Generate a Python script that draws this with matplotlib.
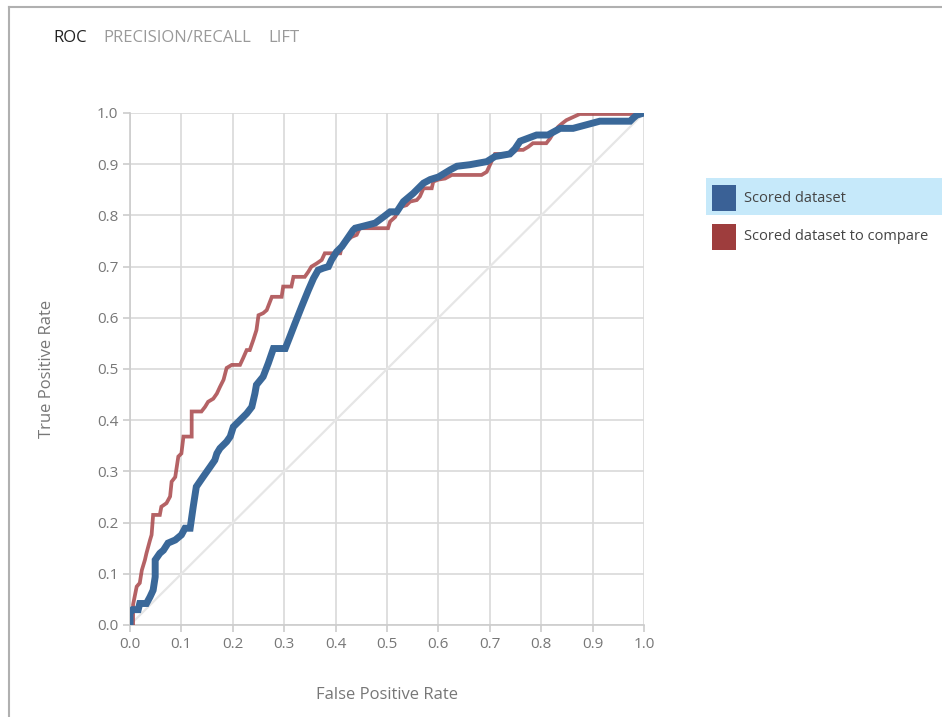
import matplotlib.pyplot as plt
from matplotlib.patches import Rectangle
from matplotlib.lines import Line2D

# ROC curve points (FPR, TPR)
fpr_scored = [0.0, 0.0, 0.005, 0.016, 0.019, 0.032, 0.039, 0.045, 0.049, 0.049, 0.058, 0.065,
              0.074, 0.088, 0.1, 0.107, 0.117, 0.123, 0.129, 0.142, 0.156, 0.165, 0.169, 0.175,
              0.188, 0.195, 0.201, 0.214, 0.227, 0.237, 0.243, 0.246, 0.259, 0.269, 0.279, 0.302,
              0.311, 0.321, 0.334, 0.347, 0.357, 0.366, 0.376, 0.386, 0.392, 0.402, 0.412, 0.421,
              0.434, 0.438, 0.454, 0.477, 0.493, 0.506, 0.519, 0.532, 0.551, 0.571, 0.584, 0.6,
              0.623, 0.636, 0.661, 0.694, 0.71, 0.739, 0.749, 0.759, 0.775, 0.791, 0.813, 0.837,
              0.862, 0.888, 0.914, 0.973, 0.979, 0.986, 1.0]
tpr_scored = [0.0, 0.025, 0.03, 0.03, 0.042, 0.042, 0.055, 0.068, 0.094, 0.127, 0.14, 0.146,
              0.16, 0.166, 0.176, 0.189, 0.189, 0.231, 0.27, 0.289, 0.309, 0.322, 0.335, 0.345,
              0.358, 0.368, 0.387, 0.4, 0.413, 0.426, 0.452, 0.469, 0.485, 0.511, 0.54, 0.54,
              0.563, 0.589, 0.622, 0.654, 0.677, 0.693, 0.697, 0.7, 0.713, 0.729, 0.739, 0.752,
              0.771, 0.775, 0.779, 0.785, 0.797, 0.807, 0.807, 0.827, 0.843, 0.863, 0.87, 0.875,
              0.889, 0.896, 0.899, 0.905, 0.915, 0.92, 0.93, 0.945, 0.951, 0.957, 0.957, 0.97,
              0.97, 0.977, 0.984, 0.984, 0.99, 0.996, 1.0]

fpr_compare = [0.006, 0.006, 0.013, 0.019, 0.023, 0.029, 0.032, 0.039, 0.042, 0.045, 0.058,
               0.061, 0.071, 0.078, 0.081, 0.088, 0.094, 0.1, 0.104, 0.12, 0.12, 0.139, 0.146,
               0.152, 0.162, 0.169, 0.175, 0.182, 0.188, 0.198, 0.214, 0.22, 0.227, 0.233, 0.24,
               0.246, 0.25, 0.259, 0.266, 0.276, 0.295, 0.298, 0.314, 0.318, 0.34, 0.347, 0.353,
               0.363, 0.373, 0.379, 0.409, 0.412, 0.421, 0.431, 0.441, 0.447, 0.502, 0.506, 0.516,
               0.522, 0.528, 0.538, 0.545, 0.558, 0.564, 0.571, 0.587, 0.59, 0.6, 0.613, 0.626,
               0.684, 0.694, 0.7, 0.71, 0.742, 0.752, 0.765, 0.775, 0.784, 0.81, 0.817, 0.823,
               0.833, 0.84, 0.849, 0.862, 0.875, 0.992, 1.0]
tpr_compare = [0.0, 0.04, 0.075, 0.082, 0.107, 0.127, 0.14, 0.166, 0.176, 0.215, 0.215,
               0.231, 0.238, 0.251, 0.28, 0.289, 0.329, 0.335, 0.368, 0.368, 0.417, 0.417, 0.426,
               0.436, 0.442, 0.452, 0.465, 0.479, 0.502, 0.508, 0.508, 0.521, 0.537, 0.537, 0.557,
               0.576, 0.605, 0.609, 0.615, 0.641, 0.641, 0.661, 0.661, 0.68, 0.68, 0.69, 0.7,
               0.706, 0.713, 0.726, 0.726, 0.739, 0.749, 0.758, 0.762, 0.775, 0.775, 0.788, 0.797,
               0.811, 0.817, 0.82, 0.827, 0.83, 0.837, 0.853, 0.853, 0.866, 0.87, 0.872, 0.879,
               0.879, 0.885, 0.898, 0.92, 0.92, 0.928, 0.928, 0.934, 0.941, 0.941, 0.95, 0.96,
               0.973, 0.979, 0.986, 0.992, 0.998, 0.998, 1.0]

ticks = [0.0, 0.1, 0.2, 0.3, 0.4, 0.5, 0.6, 0.7, 0.8, 0.9, 1.0]
tabs = ["ROC", "PRECISION/RECALL", "LIFT"]
series_names = ["Scored dataset", "Scored dataset to compare"]

plt.rcParams['font.family'] = ['Open Sans', 'DejaVu Sans']

blue = '#3a6899'
red = '#a8474a'
grid_c = '#d9d9d9'
text_c = '#777777'

fig = plt.figure(figsize=(9.42, 7.17), dpi=100)
ax = fig.add_axes([130 / 942, 92 / 717, 514 / 942, 512 / 717])

# panel frame (top + left border)
fig.add_artist(Line2D([9 / 942, 9 / 942], [0, 1 - 7 / 717], transform=fig.transFigure,
                      color='#b0b0b0', lw=1.5))
fig.add_artist(Line2D([9 / 942, 1], [1 - 7 / 717, 1 - 7 / 717], transform=fig.transFigure,
                      color='#b0b0b0', lw=1.5))

# tabs
tab_x = [53, 103, 268]
for i, (t, x) in enumerate(zip(tabs, tab_x)):
    fig.text(x / 942, 1 - 38 / 717, t, fontsize=12, va='center', ha='left',
             color='#222222' if i == 0 else '#9a9a9a')

# diagonal
ax.plot([0, 1], [0, 1], color='#e6e6e6', lw=1.6, zorder=2)
ax.plot(fpr_compare, tpr_compare, color=red, lw=2.7, alpha=0.85, zorder=3,
        solid_joinstyle='miter')
ax.plot(fpr_scored, tpr_scored, color=blue, lw=5, zorder=4, solid_joinstyle='miter')

ax.set_xlim(0, 1)
ax.set_ylim(0, 1)
ax.set_xticks(ticks)
ax.set_yticks(ticks)
ax.set_xticklabels([f"{t:.1f}" for t in ticks])
ax.set_yticklabels([f"{t:.1f}" for t in ticks])
ax.grid(True, color=grid_c, lw=1.2)
ax.set_axisbelow(True)
for s in ['top', 'right']:
    ax.spines[s].set_visible(False)
for s in ['left', 'bottom']:
    ax.spines[s].set_color('#cccccc')
    ax.spines[s].set_linewidth(1.2)
ax.tick_params(colors='#cccccc', labelcolor=text_c, labelsize=11, length=5, width=1.2)
ax.set_xlabel("False Positive Rate", fontsize=12, color=text_c, labelpad=25)
ax.set_ylabel("True Positive Rate", fontsize=12, color=text_c, labelpad=30)

# legend drawn as in the reference (highlighted first row)
fig.add_artist(Rectangle((706 / 942, 1 - 215 / 717), 236 / 942, 37 / 717,
                         transform=fig.transFigure, facecolor='#c6e9fa', edgecolor='none'))
for i, (name, c) in enumerate(zip(series_names, ['#3a6196', '#9e3d3d'])):
    yc = 198 + i * 39
    fig.add_artist(Rectangle((712 / 942, 1 - (yc + 13) / 717), 24 / 942, 26 / 717,
                             transform=fig.transFigure, facecolor=c, edgecolor='none'))
    fig.text(744 / 942, 1 - yc / 717, name, fontsize=10.5, va='center', ha='left',
             color='#444444')

fig.savefig('out.png', dpi=100)
